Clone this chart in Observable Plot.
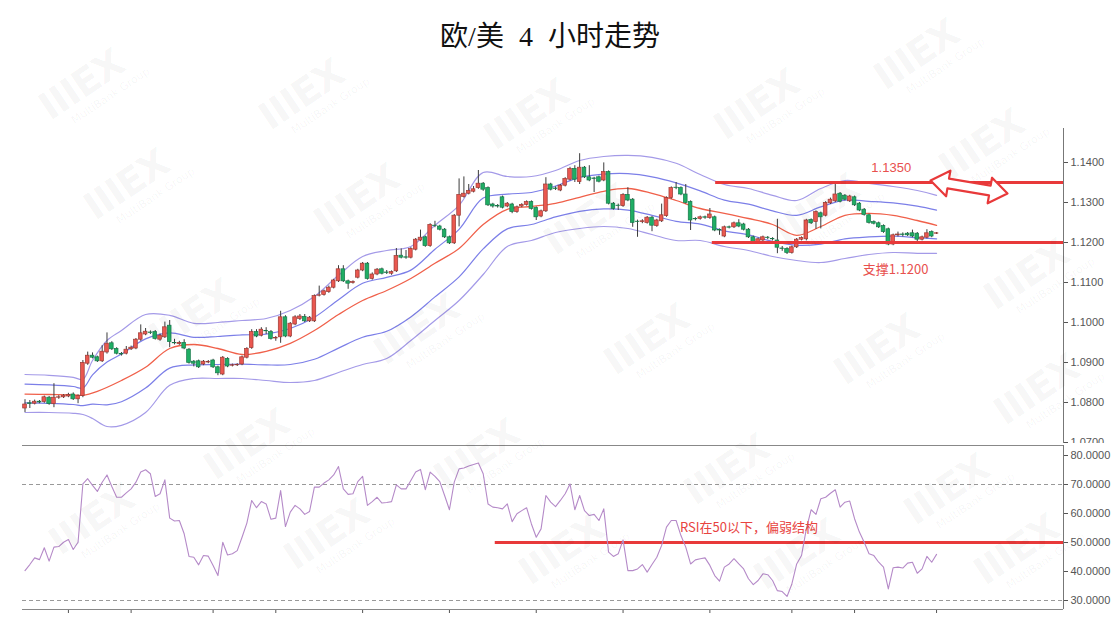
<!DOCTYPE html>
<html><head><meta charset="utf-8">
<script src="https://cdn.jsdelivr.net/npm/d3@7"></script>
<script src="https://cdn.jsdelivr.net/npm/@observablehq/plot@0.6"></script>
<style>
html,body{margin:0;padding:0;background:#fff;}
#wrap{position:relative;width:1116px;height:620px;overflow:hidden;background:#fff;}
#price{position:absolute;left:0;top:0;}
#rsi{position:absolute;left:0;top:443px;}
#title{position:absolute;left:0;top:17px;width:1100px;text-align:center;font-family:"Liberation Serif","Noto Sans CJK SC",serif;font-size:28px;line-height:40px;color:#111;word-spacing:8px;}
.wm{position:absolute;transform:translate(-50%,-50%) rotate(-34deg);color:rgba(0,0,0,0.045);font-family:"DejaVu Sans",sans-serif;text-align:center;pointer-events:none;white-space:nowrap;}
.wm b{display:block;font-size:38px;letter-spacing:-1px;line-height:38px;}
.wm i{display:block;font-style:normal;font-size:11px;margin-left:36px;}
</style></head>
<body><div id="wrap"><div id="price"></div><div id="rsi"></div><div id="title">欧/美 4 小时走势</div></div>
<script>
// ---- candles (4h EUR/USD) ----
const open = [
1.0785,1.0798,1.0797,1.0802,1.0801,1.0812,1.0796,1.0812,1.0813,1.0815,
1.0820,1.0808,1.0816,1.0897,1.0917,1.0913,1.0903,1.0925,1.0948,1.0934,
1.0921,1.0922,1.0933,1.0935,1.0957,1.0970,1.0975,1.0976,1.0957,1.0963,
1.0992,1.0949,1.0946,1.0949,1.0932,1.0902,1.0903,1.0895,1.0900,1.0905,
1.0888,1.0870,1.0909,1.0892,1.0893,1.0895,1.0912,1.0936,1.0976,1.0967,
1.0979,1.0976,1.0960,1.0963,1.1013,1.0965,1.0995,1.1009,1.1014,1.1003,
1.1003,1.1067,1.1069,1.1076,1.1087,1.1103,1.1133,1.1103,1.1099,1.1112,
1.1130,1.1147,1.1109,1.1120,1.1133,1.1125,1.1122,1.1128,1.1167,1.1163,
1.1162,1.1182,1.1205,1.1213,1.1191,1.1242,1.1240,1.1232,1.1213,1.1198,
1.1267,1.1314,1.1322,1.1327,1.1336,1.1347,1.1336,1.1295,1.1291,1.1313,
1.1290,1.1295,1.1276,1.1290,1.1294,1.1301,1.1286,1.1265,1.1278,1.1345,
1.1335,1.1330,1.1342,1.1357,1.1384,1.1351,1.1387,1.1363,1.1360,1.1363,
1.1355,1.1376,1.1297,1.1292,1.1291,1.1319,1.1307,1.1252,1.1251,1.1249,
1.1262,1.1241,1.1253,1.1266,1.1311,1.1337,1.1336,1.1320,1.1301,1.1259,
1.1259,1.1263,1.1261,1.1263,1.1231,1.1215,1.1238,1.1238,1.1248,1.1245,
1.1232,1.1213,1.1199,1.1205,1.1212,1.1209,1.1205,1.1185,1.1184,1.1174,
1.1188,1.1207,1.1208,1.1256,1.1251,1.1273,1.1267,1.1298,1.1303,1.1322,
1.1317,1.1303,1.1313,1.1297,1.1282,1.1268,1.1251,1.1248,1.1241,1.1233,
1.1195,1.1218,1.1220,1.1222,1.1223,1.1222,1.1207,1.1212,1.1226,1.1222];
const high = [
1.0807,1.0805,1.0806,1.0805,1.0816,1.0815,1.0847,1.0817,1.0820,1.0823,
1.0824,1.0819,1.0905,1.0926,1.0924,1.0916,1.0942,1.0974,1.0952,1.0937,
1.0925,1.0940,1.0941,1.0960,1.0994,1.0985,1.0979,1.0980,1.0971,1.1001,
1.1005,1.0958,1.0953,1.0957,1.0935,1.0905,1.0906,1.0905,1.0905,1.0908,
1.0891,1.0915,1.0912,1.0896,1.0897,1.0916,1.0937,1.0982,1.0982,1.0987,
1.0987,1.0980,1.0965,1.1028,1.1017,1.1000,1.1017,1.1020,1.1020,1.1015,
1.1069,1.1091,1.1081,1.1091,1.1108,1.1142,1.1142,1.1106,1.1104,1.1133,
1.1150,1.1150,1.1124,1.1135,1.1136,1.1130,1.1129,1.1185,1.1184,1.1180,
1.1187,1.1210,1.1231,1.1216,1.1247,1.1253,1.1243,1.1235,1.1216,1.1270,
1.1359,1.1364,1.1345,1.1340,1.1380,1.1350,1.1339,1.1298,1.1295,1.1316,
1.1300,1.1298,1.1291,1.1297,1.1304,1.1304,1.1289,1.1281,1.1362,1.1348,
1.1339,1.1345,1.1362,1.1388,1.1392,1.1422,1.1390,1.1392,1.1363,1.1366,
1.1399,1.1379,1.1300,1.1296,1.1322,1.1337,1.1310,1.1256,1.1257,1.1265,
1.1265,1.1258,1.1296,1.1314,1.1339,1.1350,1.1339,1.1345,1.1304,1.1262,
1.1266,1.1266,1.1285,1.1266,1.1234,1.1241,1.1241,1.1251,1.1257,1.1248,
1.1235,1.1216,1.1211,1.1216,1.1215,1.1212,1.1258,1.1190,1.1187,1.1191,
1.1210,1.1214,1.1258,1.1259,1.1279,1.1276,1.1302,1.1311,1.1347,1.1325,
1.1320,1.1318,1.1316,1.1300,1.1285,1.1271,1.1254,1.1251,1.1244,1.1236,
1.1221,1.1226,1.1224,1.1225,1.1231,1.1225,1.1216,1.1232,1.1229,1.1225];
const low = [
1.0775,1.0785,1.0794,1.0797,1.0798,1.0793,1.0787,1.0808,1.0810,1.0812,
1.0805,1.0797,1.0812,1.0893,1.0909,1.0900,1.0900,1.0921,1.0930,1.0919,
1.0916,1.0919,1.0930,1.0932,1.0953,1.0967,1.0970,1.0956,1.0953,1.0960,
1.0937,1.0944,1.0943,1.0932,1.0896,1.0889,1.0885,1.0892,1.0897,1.0885,
1.0867,1.0867,1.0887,1.0889,1.0890,1.0892,1.0909,1.0933,1.0962,1.0964,
1.0970,1.0956,1.0953,1.0948,1.0962,1.0962,1.0992,1.1005,1.1000,1.1000,
1.1000,1.1064,1.1066,1.1073,1.1084,1.1100,1.1100,1.1083,1.1096,1.1109,
1.1127,1.1106,1.1106,1.1117,1.1119,1.1120,1.1118,1.1125,1.1159,1.1158,
1.1159,1.1179,1.1202,1.1188,1.1188,1.1237,1.1229,1.1210,1.1195,1.1195,
1.1239,1.1311,1.1319,1.1324,1.1333,1.1328,1.1290,1.1286,1.1286,1.1284,
1.1287,1.1272,1.1273,1.1287,1.1291,1.1281,1.1255,1.1262,1.1275,1.1329,
1.1330,1.1327,1.1339,1.1354,1.1350,1.1345,1.1360,1.1352,1.1325,1.1349,
1.1352,1.1294,1.1281,1.1280,1.1288,1.1302,1.1238,1.1213,1.1247,1.1246,
1.1227,1.1238,1.1250,1.1263,1.1308,1.1332,1.1317,1.1296,1.1230,1.1254,
1.1256,1.1258,1.1258,1.1227,1.1218,1.1212,1.1234,1.1235,1.1237,1.1229,
1.1210,1.1196,1.1196,1.1202,1.1207,1.1204,1.1172,1.1178,1.1170,1.1171,
1.1185,1.1204,1.1204,1.1245,1.1233,1.1234,1.1264,1.1295,1.1300,1.1299,
1.1304,1.1300,1.1290,1.1277,1.1266,1.1246,1.1244,1.1235,1.1223,1.1192,
1.1192,1.1214,1.1214,1.1215,1.1212,1.1200,1.1204,1.1209,1.1212,1.1220];
const close = [
1.0795,1.0796,1.0802,1.0800,1.0813,1.0796,1.0812,1.0813,1.0817,1.0819,
1.0808,1.0816,1.0899,1.0917,1.0912,1.0903,1.0927,1.0947,1.0933,1.0922,
1.0920,1.0932,1.0937,1.0957,1.0973,1.0977,1.0974,1.0959,1.0967,1.0988,
1.0951,1.0948,1.0949,1.0935,1.0899,1.0897,1.0888,1.0902,1.0901,1.0888,
1.0873,1.0912,1.0890,1.0893,1.0894,1.0913,1.0934,1.0976,1.0965,1.0982,
1.0978,1.0959,1.0961,1.1013,1.0965,1.0997,1.1013,1.1015,1.1003,1.1012,
1.1066,1.1068,1.1078,1.1087,1.1105,1.1133,1.1103,1.1097,1.1101,1.1130,
1.1147,1.1109,1.1120,1.1132,1.1122,1.1124,1.1126,1.1166,1.1162,1.1162,
1.1184,1.1207,1.1212,1.1191,1.1244,1.1241,1.1232,1.1213,1.1198,1.1267,
1.1319,1.1322,1.1329,1.1333,1.1347,1.1332,1.1293,1.1290,1.1290,1.1287,
1.1297,1.1276,1.1288,1.1294,1.1301,1.1284,1.1263,1.1278,1.1345,1.1332,
1.1334,1.1342,1.1359,1.1384,1.1357,1.1387,1.1363,1.1355,1.1359,1.1352,
1.1376,1.1297,1.1284,1.1291,1.1319,1.1305,1.1249,1.1251,1.1253,1.1262,
1.1242,1.1255,1.1268,1.1311,1.1336,1.1336,1.1320,1.1299,1.1255,1.1258,
1.1263,1.1262,1.1270,1.1230,1.1230,1.1238,1.1237,1.1248,1.1240,1.1232,
1.1213,1.1201,1.1208,1.1213,1.1211,1.1208,1.1187,1.1184,1.1174,1.1188,
1.1207,1.1211,1.1255,1.1248,1.1276,1.1263,1.1299,1.1307,1.1320,1.1302,
1.1307,1.1315,1.1293,1.1280,1.1269,1.1249,1.1247,1.1238,1.1226,1.1195,
1.1218,1.1220,1.1219,1.1218,1.1215,1.1207,1.1213,1.1223,1.1215,1.1223];

// ---- Bollinger-style envelope, read at sample candles ----
const bandIdx = [0,5,10,12,14,17,20,25,30,35,40,45,50,55,60,65,70,75,80,85,90,95,100,105,110,115,120,125,130,135,140,145,150,155,160,165,170,175,180,185,189];
const outerUp = [1.0870,1.0868,1.0863,1.0858,1.0905,1.0955,1.0980,1.1020,1.1018,1.0998,1.1000,1.1005,1.1010,1.1030,1.1065,1.1118,1.1165,1.1180,1.1190,1.1243,1.1293,1.1375,1.1365,1.1365,1.1380,1.1405,1.1415,1.1418,1.1413,1.1398,1.1370,1.1345,1.1335,1.1318,1.1305,1.1335,1.1355,1.1348,1.1340,1.1330,1.1318];
const innerUp = [1.0846,1.0844,1.0840,1.0836,1.0869,1.0901,1.0921,1.0959,1.0974,1.0963,1.0965,1.0969,1.0971,1.0985,1.1013,1.1057,1.1098,1.1113,1.1131,1.1183,1.1233,1.1311,1.1321,1.1325,1.1341,1.1363,1.1371,1.1372,1.1364,1.1349,1.1329,1.1306,1.1296,1.1279,1.1268,1.1289,1.1306,1.1303,1.1299,1.1291,1.1281];
const innerLow = [1.0799,1.0798,1.0795,1.0792,1.0796,1.0794,1.0802,1.0836,1.0886,1.0894,1.0895,1.0896,1.0894,1.0895,1.0908,1.0936,1.0963,1.0978,1.1014,1.1064,1.1114,1.1184,1.1234,1.1245,1.1264,1.1278,1.1284,1.1281,1.1268,1.1253,1.1246,1.1229,1.1219,1.1203,1.1193,1.1196,1.1209,1.1214,1.1216,1.1212,1.1209];
const outerLow = [1.0775,1.0775,1.0773,1.0770,1.0760,1.0740,1.0743,1.0775,1.0843,1.0860,1.0860,1.0860,1.0855,1.0850,1.0855,1.0875,1.0895,1.0910,1.0955,1.1005,1.1055,1.1120,1.1190,1.1205,1.1225,1.1235,1.1240,1.1235,1.1220,1.1205,1.1205,1.1190,1.1180,1.1165,1.1155,1.1150,1.1160,1.1170,1.1175,1.1173,1.1173];
const maIdx = [0,5,10,12,15,20,25,30,35,40,45,50,55,60,65,70,75,80,85,90,95,100,105,110,115,120,125,130,135,140,145,150,155,160,165,170,175,180,185,189];
const maValue = [1.0821,1.0820,1.0819,1.0818,1.0828,1.0855,1.0888,1.0935,1.0945,1.0935,1.0920,1.0928,1.0948,1.0980,1.1020,1.1055,1.1080,1.1110,1.1148,1.1185,1.1245,1.1283,1.1290,1.1298,1.1313,1.1328,1.1335,1.1323,1.1305,1.1285,1.1273,1.1260,1.1245,1.1218,1.1240,1.1268,1.1273,1.1268,1.1255,1.1243];

// ---- RSI ----
const rsi = [
40.3,42.4,44.7,44.1,48.2,43.6,48.4,48.6,50.1,51.0,
47.6,50.1,70.2,72.0,69.7,67.6,70.8,73.3,69.3,65.6,
65.6,67.1,68.5,70.8,74.3,75.1,73.7,65.9,66.8,71.6,
58.4,57.4,57.6,53.0,45.2,44.9,42.3,45.5,45.3,42.1,
38.6,50.1,45.7,46.1,47.2,51.8,56.7,64.5,62.0,64.1,
63.3,58.0,58.4,67.9,55.5,60.5,62.8,61.6,59.7,60.7,
69.1,69.1,70.5,71.6,73.3,76.2,68.5,66.6,66.8,71.0,
72.8,62.8,64.1,65.6,63.6,63.8,64.1,69.9,68.5,68.5,
71.4,74.3,75.2,68.2,74.3,72.8,71.0,66.2,61.3,70.8,
75.4,75.7,76.4,76.9,77.4,73.7,63.3,62.2,62.0,61.6,
63.3,57.2,59.9,61.0,62.0,56.4,51.8,54.7,66.2,63.9,
62.4,64.5,66.8,70.2,61.3,66.2,61.0,59.3,59.7,57.6,
61.6,46.7,45.2,46.1,50.9,40.3,40.3,40.9,42.4,39.8,
42.4,44.9,49.0,55.3,57.6,57.6,52.4,48.4,42.6,44.0,
44.4,44.7,42.1,38.6,36.7,41.5,42.6,44.4,42.6,40.9,
37.5,35.5,36.9,39.2,38.9,36.9,33.4,33.1,31.4,35.7,
42.6,45.5,54.7,61.3,59.7,65.1,65.6,67.0,68.2,62.2,
63.9,64.3,58.2,53.6,50.1,46.1,45.5,43.2,41.5,34.0,
41.3,41.5,41.2,42.9,43.2,39.4,40.9,45.2,43.2,45.9];

// ---- axes / annotations ----
const priceTicks = [1.07,1.08,1.09,1.10,1.11,1.12,1.13,1.14];
const rsiTicks = [30,40,50,60,70,80];
const dayTicks = [9,22,39,52,70,88,106,124,142,159,172,189];
const resistance = 1.1350, resistanceFrom = 143.2;
const support = 1.1200, supportFrom = 142.5;
const rsiLevel = 50, rsiLevelFrom = 97.5;
const arrowX = [187.75,190.98,191.25,199.88,199.59,203.71,200.50,200.21,191.58,191.87];
const arrowY = [1.1355,1.13155,1.13353,1.13178,1.1298,1.13225,1.1362,1.13423,1.13598,1.13795];

const RED = "#e8393a";
const xDomain = [-0.52, 215.32];
const candles = open.map((o, i) => ({i, open: o, high: high[i], low: low[i], close: close[i], up: close[i] >= o}));
const series = (idx, vals) => idx.map((x, k) => ({x, y: vals[k]}));
const bandLine = (vals, color) => Plot.line(series(bandIdx, vals), {x: "x", y: "y", stroke: color, strokeWidth: 1.2, curve: "catmull-rom"});
const arrow = arrowX.map((x, k) => ({x, y: arrowY[k]}));

const pricePlot = Plot.plot({
  width: 1116, height: 443,
  marginLeft: 22, marginRight: 53, marginTop: 128, marginBottom: 0,
  style: {background: "transparent", color: "#555", fontSize: "11px", fontFamily: "Liberation Sans, Arial, sans-serif"},
  x: {domain: xDomain, axis: null},
  y: {domain: [1.06975, 1.1485], axis: "right", ticks: priceTicks, tickFormat: d => d.toFixed(4), tickSize: 4, tickPadding: 3, label: null},
  marks: [
    bandLine(outerUp, "#a49ae8"),
    bandLine(innerUp, "#7c7fe8"),
    bandLine(innerLow, "#7c7fe8"),
    bandLine(outerLow, "#a49ae8"),
    Plot.line(series(maIdx, maValue), {x: "x", y: "y", stroke: "#f0604a", strokeWidth: 1.3, curve: "catmull-rom"}),
    Plot.ruleX(candles, {x: "i", y1: "low", y2: "high", stroke: "#3c3c3c", strokeWidth: 1}),
    Plot.rect(candles, {x1: d => d.i - 0.38, x2: d => d.i + 0.38, y1: "open", y2: "close",
      fill: d => d.up ? "#ea5850" : "#1fae64", stroke: d => d.up ? "#9c3a34" : "#17774a", strokeWidth: 0.7}),
    Plot.ruleY([resistance], {x1: resistanceFrom, x2: xDomain[1], stroke: RED, strokeWidth: 3}),
    Plot.ruleY([support], {x1: supportFrom, x2: xDomain[1], stroke: RED, strokeWidth: 3}),
    Plot.text(["1.1350"], {x: 179.6, y: 1.13875, text: d => d, fill: "#e8504e", fontSize: 13, fontFamily: "Liberation Sans, Noto Sans CJK SC, sans-serif"}),
    Plot.text(["支撑1.1200"], {x: 180.5, y: 1.1132, text: d => d, fill: "#e8504e", fontSize: 13, fontFamily: "Noto Sans CJK SC, sans-serif"}),
    Plot.line(arrow, {x: "x", y: "y", stroke: RED, strokeWidth: 2.2, fill: "#fff", curve: "linear-closed"}),
    Plot.ruleX([xDomain[1]], {stroke: "#777", strokeWidth: 1})
  ]
});
document.getElementById("price").appendChild(pricePlot);

const rsiPlot = Plot.plot({
  width: 1116, height: 177,
  marginLeft: 22, marginRight: 53, marginTop: 2, marginBottom: 11,
  style: {background: "#fff", color: "#555", fontSize: "11px", fontFamily: "Liberation Sans, Arial, sans-serif"},
  x: {domain: xDomain, axis: "bottom", ticks: dayTicks, tickFormat: () => "", tickSize: 4, label: null},
  y: {domain: [26.9, 83.45], axis: "right", ticks: rsiTicks, tickFormat: d => d.toFixed(4), tickSize: 4, tickPadding: 3, label: null},
  marks: [
    Plot.ruleY([70, 30], {stroke: "#999", strokeDasharray: "4,3"}),
    Plot.ruleY([rsiLevel], {x1: rsiLevelFrom, x2: xDomain[1], stroke: RED, strokeWidth: 3}),
    Plot.line(rsi, {x: (d, i) => i, y: d => d, stroke: "#b58ac8", strokeWidth: 1.1}),
    Plot.text(["RSI在50以下，偏弱结构"], {x: 150.1, y: 55.2, text: d => d, fill: "#e8443f", fontSize: 13, fontFamily: "Noto Sans CJK SC, sans-serif"}),
    Plot.ruleY([83.45], {stroke: "#888"}),
    Plot.ruleY([26.9], {stroke: "#888"}),
    Plot.ruleX([xDomain[1]], {stroke: "#777", strokeWidth: 1})
  ]
});
document.getElementById("rsi").appendChild(rsiPlot);

// faint watermark tiles (background branding)
const wmX = [85,305,530,760,920,985,130,360,590,820,1030,195,420,650,880,1040,250,480,730,950,95,330,565,800,1020];
const wmY = [90,100,120,110,60,150,190,205,225,215,280,320,335,345,355,395,450,460,475,495,525,540,555,560,555];
const wrap = document.getElementById("wrap");
wmX.forEach((x, k) => {
  const d = document.createElement("div");
  d.className = "wm";
  d.style.left = x + "px"; d.style.top = wmY[k] + "px";
  d.innerHTML = "<b>IIIEX</b><i>MultiBank Group</i>";
  wrap.appendChild(d);
});
</script>
</body></html>
